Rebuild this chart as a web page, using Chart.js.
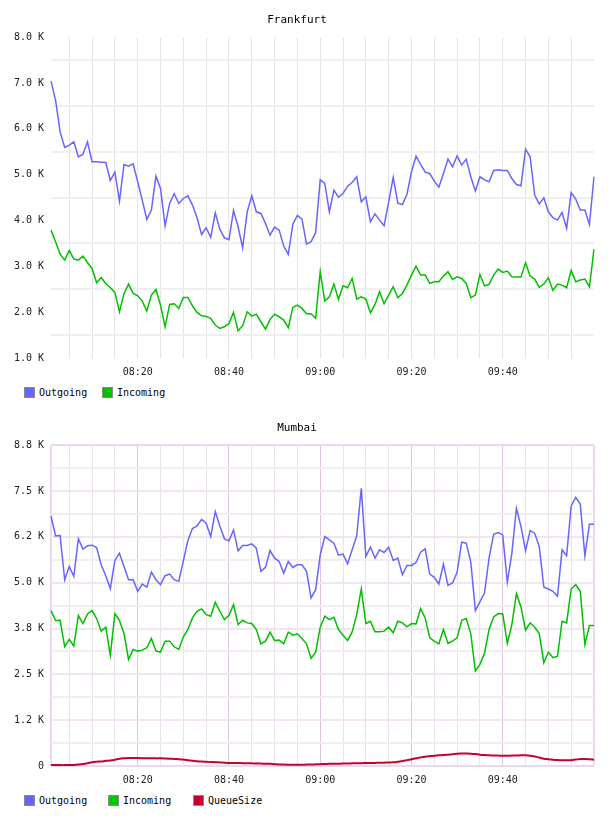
<!DOCTYPE html>
<html>
<head>
<meta charset="utf-8">
<script src="https://cdn.jsdelivr.net/npm/chart.js@4/dist/chart.umd.min.js"></script>
<style>
  body { margin: 0; background: #fff; width: 608px; height: 816px; position: relative; overflow: hidden; font-family: "DejaVu Sans Mono", monospace; }
  canvas { position: absolute; left: 0; }
  #frankfurt { top: 0; }
  #mumbai { top: 408px; }
  .legend { position: absolute; left: 0; width: 608px; height: 12px; font-size: 10px; color: #000; }
  .legend .box { position: absolute; top: 0; width: 11px; height: 11px; box-sizing: border-box; border: 1px solid #8a8a8a; }
  .legend .txt { position: absolute; top: 0; line-height: 11px; white-space: pre; }
</style>
</head>
<body>
<canvas id="frankfurt" width="608" height="380"></canvas>
<div class="legend" id="legendF" style="top:387px"></div>
<canvas id="mumbai" width="608" height="380"></canvas>
<div class="legend" id="legendM" style="top:795px"></div>
<script>
// minutes after 08:00, one sample per minute (08:01 .. 10:00)
const minutes = [];
const times = [];
for (let m = 1; m <= 120; m++) {
  minutes.push(m);
  times.push(String(8 + Math.floor(m / 60)).padStart(2, '0') + ':' + String(m % 60).padStart(2, '0'));
}

const frankfurtOutgoing = [
  7040,6626,5935,5593,5644,5717,5390,5448,5717,5281,
  5281,5274,5266,4874,5055,4423,5223,5186,5237,4845,
  4445,4023,4227,4968,4699,3885,4372,4583,4372,4481,
  4539,4336,4060,3696,3841,3631,4169,3812,3623,3580,
  4219,3863,3405,4190,4539,4190,4154,3936,3681,3856,
  3790,3442,3260,3921,4110,4030,3485,3536,3740,4888,
  4808,4190,4663,4510,4590,4750,4830,4954,4408,4517,
  3972,4147,4009,3885,4408,4939,4379,4350,4568,5063,
  5404,5223,5055,5026,4859,4728,5026,5339,5172,5412,
  5208,5339,4954,4641,4954,4888,4845,5092,5106,5092,
  5092,4917,4786,4757,5557,5390,4554,4358,4496,4190,
  4060,4009,4176,3827,4612,4467,4227,4227,3914,4954
];
const frankfurtIncoming = [
  3790,3536,3267,3136,3347,3158,3136,3223,3085,2954,
  2642,2758,2627,2533,2431,2009,2409,2613,2409,2358,
  2242,2024,2373,2496,2155,1682,2169,2184,2082,2322,
  2322,2140,1995,1922,1907,1864,1719,1646,1682,1755,
  1995,1595,1704,2009,1915,1958,1791,1631,1842,1958,
  1900,1828,1660,2104,2155,2082,1966,1966,1864,2882,
  2242,2337,2613,2278,2576,2533,2736,2286,2337,2286,
  1987,2169,2445,2184,2373,2555,2315,2409,2591,2809,
  3005,2809,2809,2627,2664,2664,2787,2882,2714,2773,
  2736,2627,2315,2373,2824,2576,2605,2809,2940,2867,
  2896,2773,2765,2765,3078,2787,2722,2540,2613,2751,
  2475,2613,2591,2533,2911,2664,2700,2722,2555,3376
];

const mumbaiOutgoing = [
  6820,6277,6286,5081,5444,5172,6195,5914,6005,6023,
  5960,5489,5190,4837,5607,5806,5444,5081,5081,4764,
  4963,4882,5290,5081,4945,5190,5235,5081,5036,5597,
  6150,6476,6548,6730,6621,6259,6938,6548,6195,6141,
  6440,5869,6014,6014,6059,5942,5308,5416,5878,5670,
  5579,5262,5579,5416,5489,5489,5308,4583,4809,5760,
  6259,6168,6078,5751,5779,5516,5896,6277,7572,5715,
  5969,5670,5896,5824,5969,5607,5670,5217,5471,5471,
  5552,5833,5923,5235,5145,4963,5507,4927,4991,5281,
  6105,6078,5552,4239,4474,4719,5670,6322,6367,6304,
  5009,5806,7029,6530,5869,6422,6349,5987,4882,4828,
  4764,4628,5896,5733,7092,7327,7137,5733,6594,6594
];
const mumbaiIncoming = [
  4239,3967,3976,3252,3451,3270,4103,3886,4148,4239,
  4021,3678,3786,3025,4157,3976,3614,2908,3179,3134,
  3161,3225,3478,3134,3107,3406,3406,3252,3179,3523,
  3723,4040,4221,4284,4130,4085,4465,4221,3994,4112,
  4402,3859,3976,3904,3886,3723,3333,3406,3650,3424,
  3433,3333,3650,3569,3605,3478,3333,2935,3107,3786,
  4085,3994,4058,3723,3569,3424,3659,4130,4828,3886,
  3949,3659,3659,3678,3786,3632,3949,3904,3795,3886,
  3877,4293,4040,3496,3406,3333,3723,3342,3406,3496,
  3976,4021,3605,2591,2772,3071,3723,4067,4157,4148,
  3342,3859,4701,4338,3705,3904,3786,3614,2817,3107,
  2953,2998,3949,3904,4828,4945,4764,3315,3831,3831
];
const mumbaiQueueSize = [
  25,25,24,24,26,30,40,55,75,100,
  115,125,140,150,170,195,210,220,220,215,
  212,210,210,208,208,205,200,192,185,175,
  160,145,130,120,115,110,105,98,90,85,
  82,80,78,75,72,70,66,63,58,50,
  42,38,36,36,36,36,38,40,45,50,
  55,58,62,64,66,70,72,75,78,80,
  82,85,88,92,96,100,115,135,160,185,
  210,235,255,268,280,290,298,310,322,335,
  338,338,335,325,310,300,292,286,283,281,
  282,284,287,290,290,280,260,230,200,185,
  172,162,156,154,158,175,190,188,182,172
];

const frankfurtTickValues = [1000,2000,3000,4000,5000,6000,7000,8000];
const frankfurtTickLabels = ['1.0 K','2.0 K','3.0 K','4.0 K','5.0 K','6.0 K','7.0 K','8.0 K'];
const frankfurtGridValues = [1500,2500,3500,4500,5500,6500,7500];

const mumbaiTickValues = [0,1250,2500,3750,5000,6250,7500,8750];
const mumbaiTickLabels = ['0','1.2 K','2.5 K','3.8 K','5.0 K','6.2 K','7.5 K','8.8 K'];
const mumbaiGridValues = [625,1875,3125,4375,5625,6875,8125];

const blue = 'rgb(102,102,255)';
const green = 'rgb(0,192,0)';
const red = 'rgb(200,0,50)';
const font = { family: 'DejaVu Sans Mono', size: 10 };

function xLabel(value, index) {
  const m = minutes[index];
  return (m % 20 === 0 && index > 0 && index < minutes.length - 1) ? times[index] : '';
}

function legend(id, items) {
  const el = document.getElementById(id);
  items.forEach(function (it) {
    const b = document.createElement('span');
    b.className = 'box';
    b.style.left = it.x + 'px';
    b.style.background = it.color;
    el.appendChild(b);
    const t = document.createElement('span');
    t.className = 'txt';
    t.style.left = (it.x + 15) + 'px';
    t.textContent = it.label;
    el.appendChild(t);
  });
}

function graficaFrankfurt() {
  const config = {
    type: 'line',
    data: {
      labels: times,
      datasets: [
        { label: 'Outgoing', data: frankfurtOutgoing, borderColor: blue, borderWidth: 1.5, pointRadius: 0, tension: 0, fill: false },
        { label: 'Incoming', data: frankfurtIncoming, borderColor: green, borderWidth: 1.5, pointRadius: 0, tension: 0, fill: false }
      ]
    },
    options: {
      responsive: false,
      animation: false,
      layout: { padding: { right: 14 } },
      plugins: {
        legend: { display: false },
        tooltip: { enabled: false },
        title: { display: true, text: 'Frankfurt', color: '#000', font: { family: 'DejaVu Sans Mono', size: 11, weight: 'normal' }, padding: { top: 14, bottom: 10 } }
      },
      scales: {
        x: {
          type: 'category',
          afterFit: function (s) { s.height = 22; },
          border: { display: false },
          grid: {
            drawTicks: false,
            lineWidth: 1,
            color: function (ctx) {
              const i = ctx.index;
              return (minutes[i] % 5 === 0 && i < minutes.length - 1) ? '#e4e4e4' : 'rgba(0,0,0,0)';
            }
          },
          ticks: { autoSkip: false, maxRotation: 0, minRotation: 0, padding: 8, color: '#222', font: font, callback: xLabel }
        },
        y: {
          min: 1000,
          max: 8000,
          afterFit: function (s) { s.width = 51; },
          afterBuildTicks: function (s) {
            s.ticks = frankfurtTickValues.concat(frankfurtGridValues).sort(function (a, b) { return a - b; }).map(function (v) { return { value: v }; });
          },
          border: { display: false },
          grid: {
            drawTicks: false,
            lineWidth: 2,
            color: function (ctx) {
              return frankfurtGridValues.indexOf(ctx.tick.value) >= 0 ? '#efefef' : 'rgba(0,0,0,0)';
            }
          },
          ticks: {
            padding: 7, color: '#222', font: font,
            callback: function (v) {
              const i = frankfurtTickValues.indexOf(v);
              return i >= 0 ? frankfurtTickLabels[i] : '';
            }
          }
        }
      }
    }
  };
  new Chart(document.getElementById('frankfurt'), config);
  legend('legendF', [
    { x: 24, color: blue, label: 'Outgoing' },
    { x: 102, color: green, label: 'Incoming' }
  ]);
}

function graficaMumbai() {
  const config = {
    type: 'line',
    data: {
      labels: times,
      datasets: [
        { label: 'Outgoing', data: mumbaiOutgoing, borderColor: blue, borderWidth: 1.5, pointRadius: 0, tension: 0, fill: false },
        { label: 'Incoming', data: mumbaiIncoming, borderColor: green, borderWidth: 1.5, pointRadius: 0, tension: 0, fill: false },
        { label: 'QueueSize', data: mumbaiQueueSize, borderColor: red, borderWidth: 2, pointRadius: 0, tension: 0.4, fill: false }
      ]
    },
    options: {
      responsive: false,
      animation: false,
      layout: { padding: { right: 14 } },
      plugins: {
        legend: { display: false },
        tooltip: { enabled: false },
        title: { display: true, text: 'Mumbai', color: '#000', font: { family: 'DejaVu Sans Mono', size: 11, weight: 'normal' }, padding: { top: 14, bottom: 10 } }
      },
      scales: {
        x: {
          type: 'category',
          afterFit: function (s) { s.height = 22; },
          border: { display: false },
          grid: {
            drawTicks: false,
            lineWidth: function (ctx) {
              const i = ctx.index;
              return (i === 0 || i === minutes.length - 1) ? 2 : 1;
            },
            color: function (ctx) {
              const i = ctx.index;
              if (i === 0 || i === minutes.length - 1) return '#ecd8ec';
              if (minutes[i] % 20 === 0) return '#dcc4dc';
              if (minutes[i] % 5 === 0) return '#ebe3eb';
              return 'rgba(0,0,0,0)';
            }
          },
          ticks: { autoSkip: false, maxRotation: 0, minRotation: 0, padding: 8, color: '#222', font: font, callback: xLabel }
        },
        y: {
          min: 0,
          max: 8750,
          afterFit: function (s) { s.width = 51; },
          afterBuildTicks: function (s) {
            s.ticks = mumbaiTickValues.concat(mumbaiGridValues).sort(function (a, b) { return a - b; }).map(function (v) { return { value: v }; });
          },
          border: { display: false },
          grid: {
            drawTicks: false,
            lineWidth: 2,
            color: function (ctx) {
              const v = ctx.tick.value;
              if (v === 0 || v === 8750) return '#ecd8ec';
              return mumbaiTickValues.indexOf(v) >= 0 ? '#f2e4f2' : '#f1edf1';
            }
          },
          ticks: {
            padding: 7, color: '#222', font: font,
            callback: function (v) {
              const i = mumbaiTickValues.indexOf(v);
              return i >= 0 ? mumbaiTickLabels[i] : '';
            }
          }
        }
      }
    }
  };
  new Chart(document.getElementById('mumbai'), config);
  legend('legendM', [
    { x: 24, color: 'rgb(100,100,255)', label: 'Outgoing' },
    { x: 108, color: 'rgb(0,200,0)', label: 'Incoming' },
    { x: 193, color: red, label: 'QueueSize' }
  ]);
}

graficaFrankfurt();
graficaMumbai();
</script>
</body>
</html>
